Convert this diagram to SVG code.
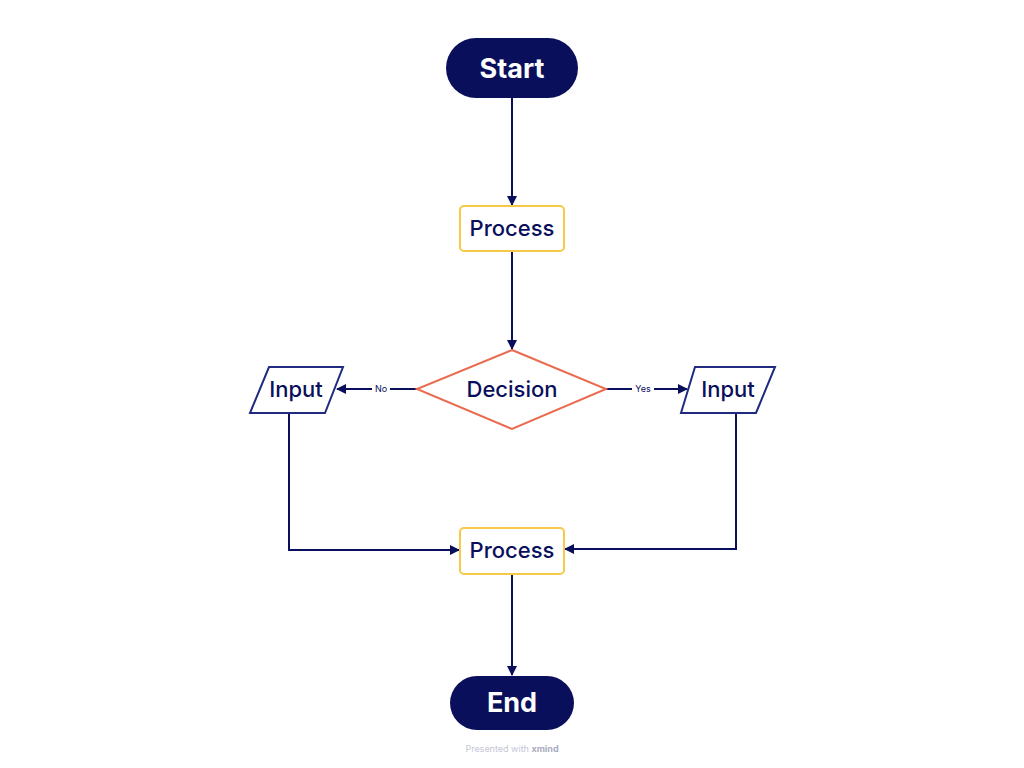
<svg xmlns="http://www.w3.org/2000/svg" width="1024" height="768" viewBox="0 0 1024 768">
<style>
.t{font-family:"Inter","Liberation Sans",sans-serif;font-weight:500;fill:#0a0f5c;text-anchor:middle}
.w{fill:#fff;font-weight:700}
.c{stroke:#0a0f5c;stroke-width:2;fill:none}
.lb{font-family:"Inter","Liberation Sans",sans-serif;font-size:9px;fill:#0a0f5c;text-anchor:middle}
</style>
<defs><marker id="a" viewBox="0 0 10 10" refX="9" refY="5" markerWidth="5" markerHeight="5" orient="auto"><path d="M0,0L10,5L0,10z" fill="#0a0f5c"/></marker></defs>
<rect width="1024" height="768" fill="#fff"/>
<g id="connectors">
<path class="c" d="M512,98V205" marker-end="url(#a)"/>
<path class="c" d="M512,251V349" marker-end="url(#a)"/>
<path class="c" d="M417,389H337" marker-end="url(#a)"/>
<path class="c" d="M606,389H687" marker-end="url(#a)"/>
<path class="c" d="M289,413V550H459" marker-end="url(#a)"/>
<path class="c" d="M736,413V549H565" marker-end="url(#a)"/>
<path class="c" d="M512,574V675" marker-end="url(#a)"/>
<rect x="372" y="383" width="18" height="12" fill="#fff"/>
<text class="lb" x="381" y="392">No</text>
<rect x="632" y="383" width="22" height="12" fill="#fff"/>
<text class="lb" x="643" y="392">Yes</text>
</g>
<g id="start"><rect x="446" y="38" width="132" height="60" rx="30" fill="#0a0f5c"/><text class="t w" x="512" y="78" font-size="27">Start</text></g>
<g id="process1"><rect x="460" y="206" width="104" height="45" rx="4" fill="#fff" stroke="#f7c948" stroke-width="2"/><text class="t" x="512" y="236" font-size="22">Process</text></g>
<g id="decision"><polygon points="512,350 606,389 512,429 417,389" fill="#fff" stroke="#ea6b4f" stroke-width="2"/><text class="t" x="512" y="397" font-size="22">Decision</text></g>
<g id="inputNo"><polygon points="269,367 343,367 325,413 250,413" fill="#fff" stroke="#1f2a80" stroke-width="2"/><text class="t" x="296" y="397" font-size="22">Input</text></g>
<g id="inputYes"><polygon points="695,367 775,367 756,413 681,413" fill="#fff" stroke="#1f2a80" stroke-width="2"/><text class="t" x="728" y="397" font-size="22">Input</text></g>
<g id="process2"><rect x="460" y="528" width="104" height="46" rx="4" fill="#fff" stroke="#f7c948" stroke-width="2"/><text class="t" x="512" y="558" font-size="22">Process</text></g>
<g id="end"><rect x="450" y="676" width="124" height="54" rx="27" fill="#0a0f5c"/><text class="t w" x="512" y="712" font-size="27">End</text></g>
<text x="512" y="752" font-family="Inter,'Liberation Sans',sans-serif" font-size="9" fill="#c4c6d6" text-anchor="middle">Presented with <tspan font-weight="700" fill="#a9abc0">xmind</tspan></text>
</svg>
